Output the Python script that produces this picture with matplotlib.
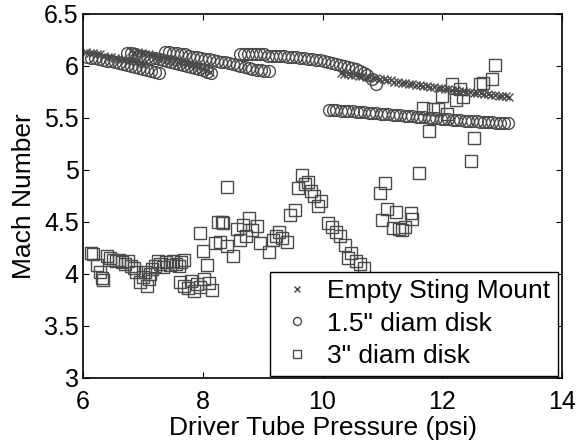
import matplotlib
matplotlib.use("Agg")
import matplotlib.pyplot as plt

plt.rcParams['font.family'] = ['Liberation Sans', 'DejaVu Sans']

# Empty Sting Mount (x markers)
sting_x = [6.05, 6.11, 6.17, 6.23, 6.29, 6.35, 6.41, 6.47, 6.53, 6.59, 6.65, 6.71, 6.77, 6.83, 6.89, 6.95, 7.01,
           6.80, 6.86, 6.92, 6.98, 7.04, 7.10, 7.16, 7.22, 7.28, 7.34, 7.40, 7.46, 7.52, 7.58, 7.64, 7.70, 7.76, 7.82, 7.88, 7.94, 8.00, 8.06, 8.12,
           10.30, 10.36, 10.42, 10.48, 10.54, 10.60, 10.66, 10.72, 10.78, 10.84, 10.90, 10.96, 11.02, 11.08, 11.14, 11.20,
           11.26, 11.32, 11.38, 11.44, 11.50, 11.56, 11.62, 11.68, 11.74, 11.80, 11.86, 11.92, 11.98, 12.04, 12.10, 12.16,
           12.22, 12.28, 12.34, 12.40, 12.46, 12.52, 12.58, 12.64, 12.70, 12.76, 12.82, 12.88, 12.94, 13.00, 13.06, 13.12]
sting_y = [6.13, 6.12, 6.12, 6.11, 6.11, 6.10, 6.09, 6.09, 6.08, 6.07, 6.07, 6.06, 6.05, 6.05, 6.04, 6.03, 6.02,
           6.14, 6.13, 6.13, 6.12, 6.11, 6.11, 6.10, 6.09, 6.08, 6.08, 6.07, 6.06, 6.05, 6.04, 6.04, 6.03, 6.02, 6.01, 6.00, 5.99, 5.97, 5.96, 5.94,
           5.93, 5.92, 5.92, 5.91, 5.91, 5.90, 5.90, 5.89, 5.89, 5.88, 5.88, 5.87, 5.87, 5.86, 5.86, 5.85,
           5.85, 5.84, 5.84, 5.83, 5.83, 5.82, 5.82, 5.81, 5.81, 5.80, 5.80, 5.79, 5.79, 5.78, 5.78, 5.77,
           5.77, 5.76, 5.76, 5.75, 5.75, 5.74, 5.74, 5.74, 5.73, 5.73, 5.72, 5.72, 5.71, 5.71, 5.71, 5.70]

# 1.5" diam disk (circles)
disk15_x = [6.07, 6.13, 6.20, 6.27, 6.33, 6.40, 6.47, 6.53, 6.60, 6.67, 6.73, 6.80, 6.87, 6.93, 7.00, 7.07, 7.13, 7.20, 7.27,
            6.73, 6.80, 6.87, 6.93, 7.00, 7.07, 7.13, 7.20, 7.27, 7.33, 7.40, 7.47, 7.53, 7.60, 7.67, 7.73, 7.80, 7.87, 7.93, 8.00, 8.07, 8.13,
            7.37, 7.43, 7.50, 7.57, 7.63, 7.70, 7.77, 7.83, 7.90, 7.97, 8.03, 8.10, 8.17, 8.23, 8.30, 8.37, 8.43, 8.50, 8.57, 8.63, 8.70, 8.77, 8.83, 8.90, 8.97, 9.03, 9.10,
            8.62, 8.69, 8.75, 8.82, 8.89, 8.95, 9.02, 9.09, 9.15, 9.22, 9.29, 9.35, 9.42, 9.49, 9.55, 9.62, 9.69, 9.75, 9.82, 9.89,
            9.95, 10.02, 10.09, 10.15, 10.22, 10.29, 10.35, 10.42, 10.49, 10.55, 10.62, 10.69, 10.75, 10.82, 10.89,
            10.10, 10.17, 10.23, 10.30, 10.37, 10.43, 10.50, 10.57, 10.63, 10.70, 10.77, 10.83, 10.90, 10.97, 11.03,
            11.10, 11.17, 11.23, 11.30, 11.37, 11.43, 11.50, 11.57, 11.63, 11.70, 11.77, 11.83, 11.90, 11.97, 12.03,
            12.10, 12.17, 12.23, 12.30, 12.37, 12.43, 12.50, 12.57, 12.63, 12.70, 12.77, 12.83, 12.90, 12.97, 13.03, 13.10]
disk15_y = [6.09, 6.08, 6.08, 6.07, 6.06, 6.05, 6.05, 6.04, 6.03, 6.02, 6.01, 6.00, 5.99, 5.98, 5.97, 5.96, 5.95, 5.94, 5.93,
            6.12, 6.12, 6.11, 6.10, 6.10, 6.09, 6.08, 6.08, 6.07, 6.06, 6.05, 6.04, 6.03, 6.02, 6.01, 6.00, 5.99, 5.98, 5.97, 5.96, 5.94, 5.93,
            6.13, 6.13, 6.12, 6.12, 6.11, 6.11, 6.10, 6.09, 6.09, 6.08, 6.07, 6.07, 6.06, 6.05, 6.04, 6.04, 6.03, 6.02, 6.01, 6.00, 5.99, 5.98, 5.97, 5.96, 5.96, 5.95, 5.95,
            6.11, 6.11, 6.11, 6.11, 6.11, 6.11, 6.11, 6.10, 6.10, 6.10, 6.10, 6.10, 6.09, 6.09, 6.09, 6.08, 6.08, 6.07, 6.07, 6.06,
            6.06, 6.05, 6.04, 6.03, 6.02, 6.01, 6.00, 5.99, 5.98, 5.97, 5.95, 5.93, 5.91, 5.87, 5.83,
            5.58, 5.58, 5.58, 5.57, 5.57, 5.57, 5.57, 5.56, 5.56, 5.56, 5.55, 5.55, 5.55, 5.54, 5.54,
            5.54, 5.53, 5.53, 5.53, 5.52, 5.52, 5.52, 5.51, 5.51, 5.51, 5.50, 5.50, 5.50, 5.49, 5.49,
            5.49, 5.48, 5.48, 5.48, 5.47, 5.47, 5.47, 5.47, 5.46, 5.46, 5.46, 5.46, 5.45, 5.45, 5.45, 5.45]

# 3" diam disk (squares)
disk3_x = [6.13, 6.17, 6.23, 6.28, 6.31, 6.33, 6.40, 6.45, 6.50, 6.55, 6.60, 6.65, 6.70, 6.75, 6.80, 6.85, 6.88,
           6.95, 7.00, 7.03, 7.07, 7.10, 7.12, 7.15, 7.20, 7.25, 7.28, 7.33, 7.38, 7.45, 7.50, 7.55, 7.60, 7.63, 7.68,
           7.62, 7.68, 7.75, 7.80, 7.85, 7.90, 7.95, 8.02, 8.10, 8.16, 8.07, 8.00, 7.95,
           8.20, 8.28, 8.25, 8.34, 8.40, 8.32, 8.40, 8.50, 8.57, 8.62, 8.67, 8.72, 8.77, 8.83, 8.90, 8.95,
           9.10, 9.17, 9.22, 9.27, 9.32, 9.40, 9.45, 9.54, 9.59, 9.65, 9.70, 9.75, 9.80, 9.85, 9.92, 9.98,
           10.09, 10.15, 10.22, 10.29, 10.37, 10.42, 10.48, 10.55, 10.62, 10.70,
           10.96, 11.05, 11.07, 11.00, 11.22, 11.17, 11.28, 11.33, 11.37, 11.47, 11.50, 11.61, 12.48,
           11.68, 11.77, 11.85, 11.93, 12.00, 12.08, 12.16, 12.22, 12.30, 12.35, 12.53, 12.63, 12.68, 12.83, 12.88]
disk3_y = [4.20, 4.19, 4.09, 4.02, 3.96, 3.94, 4.17, 4.15, 4.13, 4.12, 4.13, 4.11, 4.10, 4.12, 4.08, 4.06, 4.02,
           3.92, 3.97, 4.02, 3.88, 3.95, 4.00, 4.05, 4.08, 4.12, 4.10, 4.07, 4.11, 4.09, 4.12, 4.10, 4.08, 4.11, 4.13,
           3.92, 3.88, 3.86, 3.93, 3.84, 3.90, 3.87, 3.95, 3.91, 3.85, 4.09, 4.22, 4.39,
           4.30, 4.31, 4.50, 4.49, 4.84, 4.50, 4.27, 4.17, 4.43, 4.33, 4.47, 4.36, 4.54, 4.42, 4.46, 4.30,
           4.21, 4.33, 4.36, 4.40, 4.35, 4.31, 4.57, 4.61, 4.83, 4.95, 4.86, 4.88, 4.80, 4.75, 4.65, 4.70,
           4.49, 4.45, 4.40, 4.36, 4.28, 4.15, 4.20, 4.12, 4.10, 4.06,
           4.78, 4.87, 4.62, 4.52, 4.60, 4.44, 4.43, 4.42, 4.45, 4.59, 4.53, 4.97, 5.09,
           5.60, 5.37, 5.59, 5.59, 5.71, 5.54, 5.83, 5.67, 5.78, 5.70, 5.31, 5.83, 5.84, 5.87, 6.01]

xticks = [6, 8, 10, 12, 14]
yticks = [3, 3.5, 4, 4.5, 5, 5.5, 6, 6.5]

fig = plt.figure(figsize=(5.76, 4.42), dpi=100)
ax = fig.add_axes([0.144, 0.145, 0.832, 0.8235])

mc = '#4a4a4a'
ax.plot(sting_x, sting_y, linestyle='none', marker='x', markersize=6, markeredgewidth=1.0,
        color=mc, label='Empty Sting Mount')
ax.plot(disk15_x, disk15_y, linestyle='none', marker='o', markersize=8.5, markeredgewidth=1.0,
        markerfacecolor='none', markeredgecolor=mc, label='1.5" diam disk')
ax.plot(disk3_x, disk3_y, linestyle='none', marker='s', markersize=8, markeredgewidth=1.0,
        markerfacecolor='none', markeredgecolor=mc, label='3" diam disk')

ax.set_xlim(6, 14)
ax.set_ylim(3, 6.5)
ax.set_xticks(xticks)
ax.set_yticks(yticks)
ax.set_xticklabels(['6', '8', '10', '12', '14'])
ax.set_yticklabels(['3', '3.5', '4', '4.5', '5', '5.5', '6', '6.5'])
ax.tick_params(direction='in', top=True, right=True, labelsize=18, length=4, width=0.8)
ax.tick_params(axis='y', pad=3)
ax.tick_params(axis='x', pad=8.5)
for s in ax.spines.values():
    s.set_linewidth(1.2)
ax.set_xlabel('Driver Tube Pressure (psi)', fontsize=19, labelpad=2)
ax.set_ylabel('Mach Number', fontsize=19, labelpad=6)

leg = ax.legend(loc='lower right', bbox_to_anchor=(0.992, 0.006), borderaxespad=0,
                fancybox=False, framealpha=1, edgecolor='black', fontsize=19,
                handlelength=1.5, handletextpad=0.38, borderpad=0.3, labelspacing=0.31,
                markerscale=0.68)
leg.get_frame().set_linewidth(1.0)

fig.savefig('out.png', dpi=100)
